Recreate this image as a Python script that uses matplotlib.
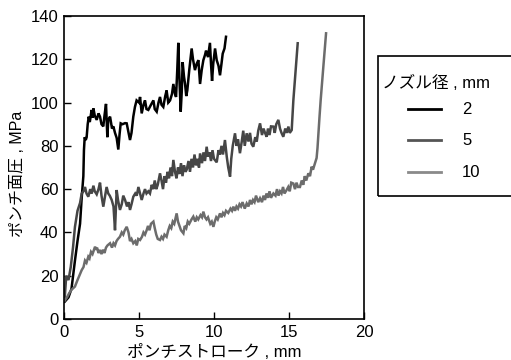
import matplotlib
matplotlib.use("Agg")
import matplotlib.pyplot as plt
from matplotlib.patches import Rectangle
from matplotlib.lines import Line2D

plt.rcParams['font.family'] = ['Liberation Sans', 'Noto Sans CJK JP', 'DejaVu Sans']

# ---- data (stroke mm, pressure MPa) ----
nozzle_2 = [(0.05,8),(0.3,10),(0.5,14),(0.73,27),(0.9,36),(1.07,44),(1.18,56),(1.29,66),(1.33,78),(1.38,84),
            (1.45,82.7),(1.51,84),(1.58,90),(1.65,93.5),(1.72,91),(1.84,96.6),(1.9,93),(1.96,97.3),(2.05,94),(2.18,92),
            (2.3,95),(2.4,93.5),(2.5,90),(2.62,89),(2.7,94),(2.8,99.4),(2.89,84),(2.95,92),(3.07,93.5),(3.2,88),
            (3.29,89),(3.4,86),(3.51,83.7),(3.62,78.3),(3.7,85),(3.78,90.4),(3.9,90),(4.07,90.5),(4.18,90.4),(4.4,82.7),
            (4.5,86),(4.62,93.5),(4.73,98),(4.84,101),(5.0,100),(5.07,102.6),(5.18,95),(5.3,99),(5.4,101),(5.5,97),(5.62,96.6),
            (5.8,99),(5.96,101),(6.05,97),(6.18,95.8),(6.3,100),(6.4,102.6),(6.5,99),(6.62,98),(6.75,103),(6.84,105.6),
            (6.95,100),(7.07,101),(7.2,104),(7.29,108.6),(7.4,104),(7.47,102.6),(7.55,115),(7.62,127.6),(7.7,110),(7.78,95.8),
            (7.85,105),(7.91,118.7),(8.0,112),(8.07,108.6),(8.15,103),(8.22,105.6),(8.35,115),(8.51,125),(8.6,120),(8.73,115),
            (8.85,118),(8.96,119.6),(9.07,108.6),(9.18,115),(9.29,119.6),(9.4,122),(9.47,124),(9.6,121),(9.73,127.6),(9.8,118),
            (9.87,110),(9.95,118),(10.07,125),(10.18,119.6),(10.3,117),(10.4,112.6),(10.5,118),(10.58,122.6),(10.7,125),(10.8,130.4)]

nozzle_5 = [(0.05,10),(0.15,20),(0.3,18),(0.45,24),(0.6,33),(0.73,42.6),(0.9,50),(1.07,53.6),(1.18,58),(1.3,59),
            (1.4,61),(1.5,58),(1.62,56.5),(1.75,60),(1.85,58),(1.96,61.6),(2.05,59),(2.18,57.6),(2.3,60),(2.4,63),
            (2.5,57),(2.62,51.9),(2.72,56),(2.84,61),(2.95,58),(3.05,57),(3.18,55),(3.3,52),(3.4,41),(3.45,50),
            (3.51,59.6),(3.6,55),(3.73,50.4),(3.85,53),(3.95,57),(4.07,55),(4.2,52),(4.3,54),(4.4,50.4),(4.5,53),
            (4.62,56.5),(4.75,58),(4.85,57),(4.96,61),(5.07,58),(5.18,55),(5.3,58),(5.4,60),(5.5,58),(5.62,59),
            (5.73,58),(5.85,62),(5.95,60),(6.05,64),(6.15,60),(6.25,62),(6.4,67.3),(6.5,64),(6.6,60),(6.7,66),
            (6.8,63),(6.9,68),(7.0,65),(7.1,70),(7.2,66),(7.29,73.5),(7.4,68),(7.5,65),(7.6,70),(7.7,67),
            (7.8,72),(7.9,66),(8.0,71),(8.1,68),(8.18,69),(8.3,73),(8.4,68),(8.5,74),(8.6,70),(8.7,76),
            (8.8,71),(8.9,74),(9.0,70),(9.07,76.5),(9.2,72),(9.3,77),(9.4,73),(9.51,79.6),(9.6,75),(9.7,77),
            (9.8,73),(9.9,78),(10.0,74),(10.18,72.4),(10.3,78),(10.4,76),(10.5,80),(10.6,76),(10.73,82.7),(10.85,75),
            (10.95,70),(11.07,65.8),(11.15,74),(11.25,80),(11.4,85.8),(11.5,80),(11.6,83),(11.73,76.6),(11.85,82),(11.95,87),
            (12.05,80),(12.18,85.8),(12.3,82),(12.4,86),(12.5,81),(12.62,79.6),(12.75,84),(12.85,82),(12.95,87),(13.07,90.4),
            (13.2,85),(13.3,88),(13.4,86),(13.51,84.2),(13.6,88),(13.7,85),(13.8,89),(13.96,88.9),(14.05,86),(14.15,90),
            (14.29,92),(14.4,88),(14.5,86),(14.62,84.2),(14.75,88),(14.85,86),(14.96,88.9),(15.05,86),(15.18,87.3),(15.22,92),
            (15.29,101),(15.38,109),(15.47,116.6),(15.53,122),(15.58,127.4)]

nozzle_10 = [(0.05,8.5),(0.2,10),(0.35,12),(0.5,13.5),(0.73,15),(0.9,18),(1.05,20.5),(1.18,22.6),(1.3,24),(1.4,27),
             (1.5,26),(1.62,28.8),(1.7,28),(1.8,31),(1.9,30),(2.07,33.4),(2.15,32),(2.2,33),(2.3,30.5),(2.4,31.9),
             (2.5,30),(2.6,32),(2.7,30.5),(2.8,33),(2.9,34),(3.07,35),(3.2,33),(3.3,35),(3.4,34),(3.5,36),
             (3.6,37),(3.73,38),(3.85,40),(3.95,39),(4.05,41),(4.18,42.6),(4.3,40),(4.4,36),(4.5,37),(4.62,35),
             (4.75,36),(4.85,34),(4.95,37),(5.07,36.5),(5.2,38),(5.3,40),(5.4,39),(5.51,41),(5.6,43),(5.7,41),
             (5.8,44),(5.96,45),(6.05,42),(6.15,39),(6.25,37),(6.4,36.5),(6.5,38),(6.6,37),(6.7,39),(6.84,38),
             (6.95,41),(7.05,43),(7.15,42),(7.25,45),(7.35,44),(7.51,48.8),(7.6,45),(7.7,43),(7.8,41),(7.96,39.6),
             (8.05,43),(8.15,42),(8.25,45),(8.35,44),(8.5,46),(8.62,47.3),(8.75,45),(8.85,47),(8.95,46),(9.1,48),
             (9.2,47),(9.29,49.6),(9.4,47),(9.5,46),(9.6,47),(9.75,44),(9.85,45),(9.96,42.6),(10.05,45),(10.15,47),
             (10.25,46),(10.4,48.8),(10.5,47),(10.6,49),(10.7,48),(10.8,50),(10.95,49),(11.1,51),(11.2,50),(11.29,51.9),
             (11.4,50),(11.5,52),(11.6,51),(11.7,53),(11.8,52),(11.9,54),(12.05,51),(12.18,53.4),(12.3,52),(12.4,55),
             (12.5,53),(12.6,55),(12.7,54),(12.8,57),(12.95,54),(13.07,55.8),(13.2,54),(13.3,57),(13.4,55),(13.5,58),
             (13.6,56),(13.7,59),(13.8,56),(13.96,58),(14.1,57),(14.2,60),(14.3,57),(14.4,59),(14.5,58),(14.6,61),
             (14.7,58),(14.84,59.6),(14.95,61),(15.05,59),(15.15,63),(15.29,62.6),(15.4,60),(15.5,63),(15.6,61),(15.73,61),
             (15.85,64),(15.95,62),(16.05,66),(16.15,64),(16.29,67.3),(16.4,66),(16.51,70.4),(16.6,69),(16.73,72),(16.84,74.4),
             (16.9,79),(16.96,85.8),(17.03,93),(17.11,101),(17.2,109),(17.29,116.6),(17.38,124),(17.47,132)]

series_labels = ['2', '5', '10']
series_colors = ['#000000', '#464646', '#6c6c6c']
legend_colors = ['#000000', '#555555', '#8a8a8a']
x_ticks = [0, 5, 10, 15, 20]
y_ticks = [0, 20, 40, 60, 80, 100, 120, 140]

W, H = 511, 360
fig = plt.figure(figsize=(W / 100, H / 100), dpi=100)
ax = fig.add_axes([64 / W, 1 - 319 / H, 300 / W, 303 / H])

for data, col in zip([nozzle_2, nozzle_5, nozzle_10], series_colors):
    xs, ys = zip(*data)
    ax.plot(xs, ys, color=col, lw=1.8, solid_joinstyle='miter')

ax.set_xlim(0, 20)
ax.set_ylim(0, 140)
ax.set_xticks(x_ticks)
ax.set_yticks(y_ticks)
ax.tick_params(direction='in', length=5, width=1, labelsize=12, pad=4)
for s in ax.spines.values():
    s.set_linewidth(1.2)
ax.set_xlabel('ポンチストローク , mm', fontsize=12, labelpad=3)
ax.set_ylabel('ポンチ面圧 , MPa', fontsize=11.5)
ax.yaxis.set_label_coords(-0.13, 0.48)

# legend box
fig.patches.append(Rectangle((378 / W, 1 - 196 / H), 140 / W, 140 / H,
                             transform=fig.transFigure, fill=False,
                             edgecolor='black', lw=1.2, clip_on=False))
fig.text(382 / W, 1 - 83 / H, 'ノズル径 , mm', fontsize=12, va='center', ha='left')
for i, (lab, col) in enumerate(zip(series_labels, legend_colors)):
    yy = 1 - (109 + 31.5 * i) / H
    fig.lines.append(Line2D([408 / W, 441 / W], [yy, yy], transform=fig.transFigure,
                            color=col, lw=2))
    fig.text(462 / W, yy, lab, fontsize=12, va='center', ha='left')

fig.savefig('out.png', dpi=100)
